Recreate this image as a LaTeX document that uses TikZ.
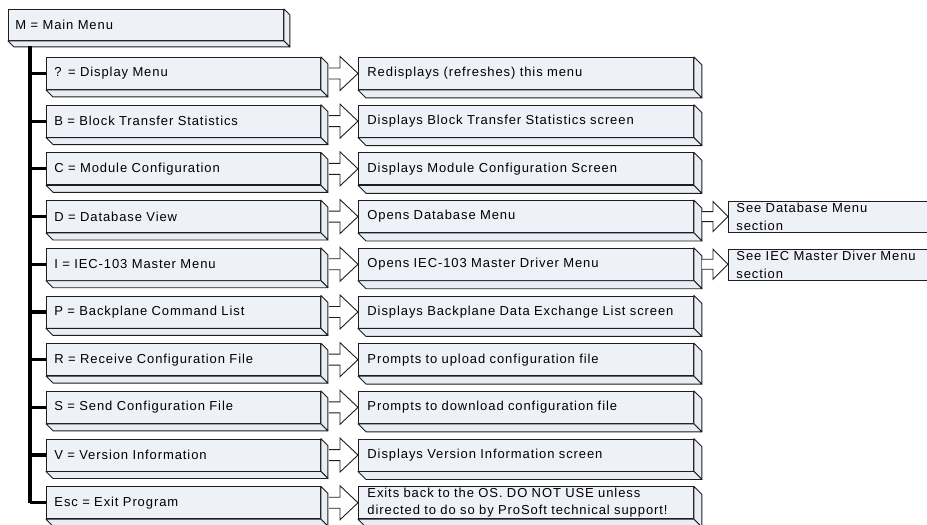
\documentclass[tikz,border=0pt]{standalone}
\usepackage{fontspec}
\setmainfont{Liberation Sans}[LetterSpace=7]
\usetikzlibrary{calc}
\definecolor{face}{HTML}{EEF1F8}
\definecolor{sideface}{HTML}{E9EDF5}
\definecolor{edge}{HTML}{1E1E1E}
\tikzset{
  front/.style={draw=edge, fill=face, line width=0.9pt, rectangle, anchor=north west,
    inner xsep=8pt, inner ysep=0pt, align=left, text=black,
    font=\fontsize{13}{17}\selectfont},
  depthface/.style={draw=edge, fill=sideface, line width=0.9pt, line join=round},
  blockarrow/.style={draw=edge, fill=white, line width=0.9pt, line join=miter},
  trunkline/.style={line width=3.2pt, black},
}
\newcommand\depthfaces[2]{%
  \draw[depthface] (#1.north east) -- ++(#2,#2) -- ($(#1.south east)+(#2,#2)$) -- (#1.south east) -- cycle;
  \draw[depthface] (#1.south west) -- (#1.south east) -- ++(#2,#2) -- ($(#1.south west)+(#2,#2)$) -- cycle;
}
\begin{document}
\begin{tikzpicture}[x=1pt,y=-1pt]
\clip (0,0) rectangle (927,525);
\fill[white] (0,0) rectangle (927,525);

% main box
\node[front, minimum width=275pt, minimum height=31pt, text width=261pt, inner xsep=7pt] (main) at (8,9) {M = Main Menu};
\depthfaces{main}{6}
\coordinate (trunktop) at (30,46);

\foreach \i/\lt/\rt in {
  0/{? = Display Menu}/{Redisplays (refreshes) this menu},
  1/{B = Block Transfer Statistics}/{Displays Block Transfer Statistics screen},
  2/{C = Module Configuration}/{Displays Module Configuration Screen},
  3/{D = Database View}/{Opens Database Menu},
  4/{I = IEC-103 Master Menu}/{Opens IEC-103 Master Driver Menu},
  5/{P = Backplane Command List}/{Displays Backplane Data Exchange List screen},
  6/{R = Receive Configuration File}/{Prompts to upload configuration file},
  7/{S = Send Configuration File}/{Prompts to download configuration file},
  8/{V = Version Information}/{Displays Version Information screen},
  9/{Esc = Exit Program}/{Exits back to the OS. DO NOT USE unless\\directed to do so by ProSoft technical support!}}
{
  \pgfmathsetmacro\cy{73+47.7*\i-16}
  \node[front, minimum width=274pt, minimum height=32pt, text width=258pt] (l\i) at (46,\cy) {\lt};
  \depthfaces{l\i}{7}
  \node[front, minimum width=335pt, minimum height=32pt, text width=317pt, inner xsep=9pt] (r\i) at (358,\cy) {\rt};
  \depthfaces{r\i}{8}
  \draw[blockarrow] let \p1=($(l\i.east)+(8,0)$), \p2=(r\i.west) in
    (\x1,\y1+5.5pt) -- (\x2-18pt,\y1+5.5pt) -- (\x2-18pt,\y1+17pt) -- (\x2,\y1)
    -- (\x2-18pt,\y1-17pt) -- (\x2-18pt,\y1-5.5pt) -- (\x1,\y1-5.5pt);
  \draw[trunkline] (trunktop |- l\i.west) -- (l\i.west);
}
\draw[trunkline] (trunktop) -- (trunktop |- l9.west);

% third-level boxes
\node[front, minimum width=240pt, minimum height=31pt, text width=224pt, font=\fontsize{13}{18}\selectfont] (t3) at (728,73+47.7*3-15) {See Database Menu\\section};
\node[front, minimum width=240pt, minimum height=31pt, text width=224pt, font=\fontsize{13}{18}\selectfont] (t4) at (728,73+47.7*4-15) {See IEC Master Diver Menu\\section};
\foreach \a/\b in {r3/t3, r4/t4}{
  \draw[blockarrow] let \p1=($(\a.east)+(8,0)$), \p2=(\b.west) in
    (\x1,\y1+5pt) -- (\x2-15pt,\y1+5pt) -- (\x2-15pt,\y1+15pt) -- (\x2,\y1)
    -- (\x2-15pt,\y1-15pt) -- (\x2-15pt,\y1-5pt) -- (\x1,\y1-5pt);
}
\end{tikzpicture}
\end{document}
